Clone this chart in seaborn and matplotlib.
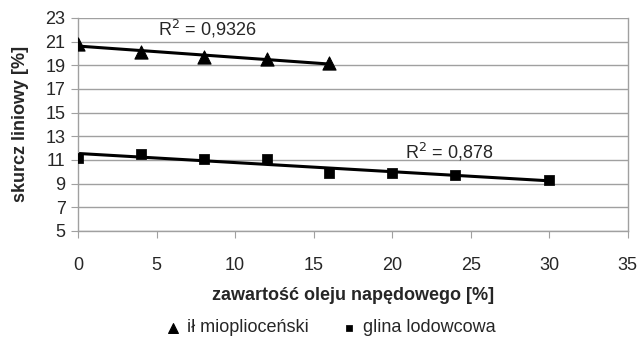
import matplotlib
matplotlib.use("Agg")
import matplotlib.pyplot as plt
import seaborn as sns
import numpy as np
import pandas as pd

x_il = [0, 4, 8, 12, 16]
y_il = [20.8, 20.1, 19.7, 19.5, 19.2]
x_gl = [0, 4, 8, 12, 16, 20, 24, 30]
y_gl = [11.2, 11.5, 11.05, 11.05, 9.9, 9.85, 9.7, 9.3]
labels = ["ił mioplioceński", "glina lodowcowa"]
r2_labels = ["R$^2$ = 0,9326", "R$^2$ = 0,878"]

sns.set_style("white")
plt.rcParams['font.family'] = ['Liberation Sans', 'DejaVu Sans']

fig = plt.figure(figsize=(6.4, 3.38), dpi=100)
ax = fig.add_axes([0.122, 0.317, 0.859, 0.63])

df1 = pd.DataFrame({"x": x_il, "y": y_il})
df2 = pd.DataFrame({"x": x_gl, "y": y_gl})

for v in range(5, 24, 2):
    ax.axhline(v, color="#a0a0a0", lw=1.0, zorder=0)

sns.regplot(data=df1, x="x", y="y", ax=ax, scatter=False, ci=None,
            line_kws=dict(color="black", lw=2.2, zorder=2))
sns.regplot(data=df2, x="x", y="y", ax=ax, scatter=False, ci=None,
            line_kws=dict(color="black", lw=2.2, zorder=2))
sns.scatterplot(data=df1, x="x", y="y", ax=ax, marker="^", s=90, color="black",
                edgecolor="black", label=labels[0], zorder=3)
sns.scatterplot(data=df2, x="x", y="y", ax=ax, marker="s", s=45, color="black",
                edgecolor="black", label=labels[1], zorder=3)

ax.text(8.2, 22.05, r2_labels[0], ha="center", va="center", fontsize=13)
ax.text(23.6, 11.7, r2_labels[1], ha="center", va="center", fontsize=13)

ax.set_xlim(0, 35)
ax.set_ylim(5, 23)
ax.set_xticks(range(0, 36, 5))
ax.set_yticks(range(5, 24, 2))
ax.tick_params(axis="both", labelsize=13, length=5, color="#a0a0a0", direction="out",
               bottom=True, left=True)
ax.tick_params(axis="x", pad=14)
ax.tick_params(axis="y", pad=4)
for s in ["top"]:
    ax.spines[s].set_visible(False)
for s in ["left", "bottom", "right"]:
    ax.spines[s].set_color("#a0a0a0")
    ax.spines[s].set_linewidth(1.0)

ax.set_xlabel("zawartość oleju napędowego [%]", fontsize=13, fontweight="bold", labelpad=9)
ax.set_ylabel("skurcz liniowy [%]", fontsize=13, fontweight="bold", labelpad=12)

ax.legend(loc="center", bbox_to_anchor=(0.45, -0.455), ncol=2, frameon=False,
          fontsize=13, handletextpad=-0.2, columnspacing=1.2, markerscale=0.75)

fig.savefig("out.png", dpi=100)
